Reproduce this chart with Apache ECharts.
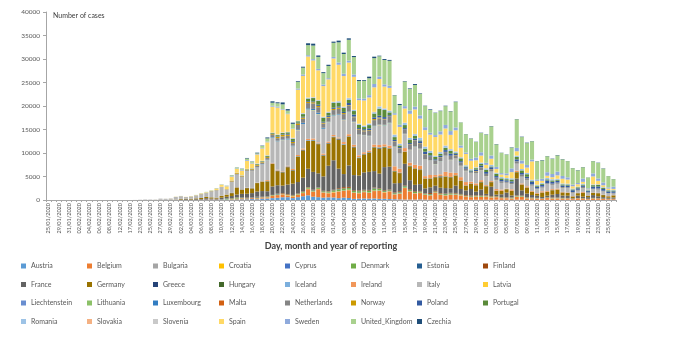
<!DOCTYPE html>
<html><head><meta charset="utf-8">
<script src="https://cdn.jsdelivr.net/npm/echarts@6/dist/echarts.min.js"></script>
<style>html,body{margin:0;padding:0;background:#fff}#c{width:681px;height:356px}</style>
</head><body><div id="c"></div>
<script>
const dates = ['25/01/2020','28/01/2020','29/01/2020','30/01/2020','31/01/2020','01/02/2020','02/02/2020','03/02/2020','04/02/2020','05/02/2020',
'06/02/2020','07/02/2020','08/02/2020','10/02/2020','12/02/2020','13/02/2020','17/02/2020','21/02/2020','23/02/2020','24/02/2020',
'25/02/2020','26/02/2020','27/02/2020','28/02/2020','29/02/2020','01/03/2020',
'02/03/2020','03/03/2020','04/03/2020','05/03/2020','06/03/2020','07/03/2020','08/03/2020','09/03/2020','10/03/2020','11/03/2020',
'12/03/2020','13/03/2020','14/03/2020','15/03/2020','16/03/2020','17/03/2020','18/03/2020','19/03/2020','20/03/2020','21/03/2020',
'22/03/2020','23/03/2020','24/03/2020','25/03/2020','26/03/2020','27/03/2020','28/03/2020','29/03/2020','30/03/2020','31/03/2020',
'01/04/2020','02/04/2020','03/04/2020','04/04/2020','05/04/2020','06/04/2020','07/04/2020','08/04/2020','09/04/2020','10/04/2020',
'11/04/2020','12/04/2020','13/04/2020','14/04/2020','15/04/2020','16/04/2020','17/04/2020','18/04/2020','19/04/2020','20/04/2020',
'21/04/2020','22/04/2020','23/04/2020','24/04/2020','25/04/2020','26/04/2020','27/04/2020','28/04/2020','29/04/2020','30/04/2020',
'01/05/2020','02/05/2020','03/05/2020','04/05/2020','05/05/2020','06/05/2020','07/05/2020','08/05/2020','09/05/2020','10/05/2020',
'11/05/2020','12/05/2020','13/05/2020','14/05/2020','15/05/2020','16/05/2020','17/05/2020','18/05/2020','19/05/2020','20/05/2020',
'21/05/2020','22/05/2020','23/05/2020','24/05/2020','25/05/2020','26/05/2020'];

const Austria = [0,0,0,0,0,0,0,0,0,0, 0,0,0,0,0,0,0,0,0,0, 0,0,2,1,3,4,
4,8,4,6,14,19,39,19,70,99,
60,120,150,150,200,160,300,320,400,480,580,600,400,600,800,1000,700,600,500,560,
530,400,500,420,240,300,320,300,320,250,250,200,170,130,90,100,90,130,80,60,70,80,50,80,80,60,40,50,50,50,
60,40,60,30,40,30,60,50,30,50,30,20,30,20,30,30,40,20,20,30,20,20,40,20,30,20];
const Belgium = [0,0,0,0,0,0,1,0,0,0, 0,0,0,0,0,0,0,0,0,0, 0,0,0,0,0,1,
1,6,5,10,27,59,60,70,39,28,
100,170,200,170,190,190,250,240,460,560,590,340,320,500,670,1300,1050,1700,1050,870,
1060,1380,1420,1660,1260,1120,1350,1200,1580,1680,1350,1630,1000,1200,2450,1700,1300,1350,1000,900,1500,1000,900,1000,1000,900,700,550,650,600,
660,480,540,360,340,260,630,640,300,300,240,200,380,290,300,260,220,170,300,220,150,270,240,200,150,160];
const Bulgaria = [0,0,0,0,0,0,0,0,0,0, 0,0,0,0,0,0,0,0,0,0, 0,0,0,0,0,0,
0,0,0,0,0,0,0,4,0,2,
3,0,16,8,10,0,20,11,15,15,10,20,20,0,22,30,22,30,20,30,
40,20,30,20,20,40,50,20,40,20,20,30,20,40,30,40,40,40,50,20,20,50,40,60,80,40,30,40,50,40,
50,40,40,30,30,50,60,40,30,20,40,30,40,50,40,30,30,20,20,30,20,30,10,20,20,20];
const Croatia = [0,0,0,0,0,0,0,0,0,0, 0,0,0,0,0,0,0,0,0,0, 0,1,2,0,0,3,
2,1,1,0,1,1,0,1,1,2,
5,2,13,10,5,20,8,20,45,40,50,60,80,56,60,60,40,50,60,70,
80,60,50,80,70,50,60,60,70,60,70,30,40,30,40,40,40,40,20,20,20,20,30,20,10,20,10,10,20,10,
10,10,5,5,0,10,5,5,10,0,5,5,0,0,5,0,5,0,0,5,0,5,0,0,0,0];
const Cyprus = [0,0,0,0,0,0,0,0,0,0, 0,0,0,0,0,0,0,0,0,0, 0,0,0,0,0,0,
0,0,0,0,0,0,0,0,2,4,
0,0,8,0,20,0,25,0,15,13,30,0,7,27,0,30,25,0,40,35,
30,30,40,20,40,30,20,30,20,40,10,20,20,30,20,20,20,10,10,10,10,10,10,10,10,10,0,10,0,10,
0,5,5,5,0,5,0,5,0,0,5,0,0,0,5,0,5,0,0,0,0,5,0,0,0,0];
const Denmark = [0,0,0,0,0,0,0,0,0,0, 0,0,0,0,0,0,0,0,0,0, 0,0,0,1,0,2,
1,0,2,4,5,3,5,7,15,170,
150,200,100,50,40,130,50,100,100,100,60,100,120,100,160,220,190,200,180,200,
280,350,370,330,280,310,210,330,390,310,180,170,180,210,300,200,210,200,150,210,150,160,220,230,150,150,110,120,150,140,
150,140,120,120,70,140,120,120,120,100,80,50,100,90,90,80,60,40,50,70,40,60,60,40,50,40];
const Estonia = [0,0,0,0,0,0,0,0,0,0, 0,0,0,0,0,0,0,0,0,0, 0,0,0,1,0,0,
0,0,1,0,0,2,7,0,0,0,
0,11,30,40,50,100,20,30,0,80,12,40,40,0,50,30,70,40,35,20,
50,80,60,50,40,30,30,60,90,60,50,30,40,40,60,50,30,40,50,60,30,20,40,30,40,20,10,30,20,10,
20,15,10,5,10,10,15,10,5,5,5,5,5,5,10,5,5,0,5,0,5,5,5,0,0,5];
const Finland = [0,0,0,0,1,0,0,0,0,0, 0,0,0,0,0,0,0,0,0,0, 0,0,1,0,0,1,
1,0,3,2,6,3,2,0,0,10,
50,60,10,70,50,100,30,40,50,50,130,120,90,90,90,80,86,50,80,100,
110,180,270,200,140,160,130,150,150,110,150,110,140,190,120,150,140,120,90,200,140,130,80,100,130,90,150,160,100,110,
100,110,70,60,80,60,90,80,70,50,60,40,60,80,50,50,70,40,30,60,30,60,40,30,30,40];
const France = [3,0,1,0,1,0,0,0,0,0, 0,0,5,0,0,0,1,0,0,0, 0,2,20,19,43,30,
100,150,100,150,138,300,200,190,370,372,
490,600,780,830,900,1100,1200,1100,1800,1800,1600,2000,2400,2450,2900,3900,3800,3000,3050,5400,
6270,4170,2780,4580,3210,3170,3700,3850,3490,3090,4920,4860,1950,1740,4600,1910,1360,1440,1020,1220,1100,1150,1170,950,1550,1060,990,1370,740,1270,
250,1990,300,600,1000,400,3600,1100,800,530,450,300,300,600,750,500,480,100,500,300,340,590,400,300,200,250];
const Germany = [0,1,3,0,1,1,2,2,0,0, 2,0,0,1,0,0,0,0,0,0, 0,1,19,2,30,52,
130,120,150,170,230,250,250,200,400,450,
600,1500,900,1200,1000,1800,2000,2100,4800,3000,2800,3700,2800,5400,5800,5900,6600,6200,4400,4700,
4900,6200,6200,6100,5900,3700,3800,4000,5000,5300,4100,3800,2500,2100,2500,2900,3400,3000,2000,1800,1800,2200,2400,2300,2100,1700,1000,1100,1300,1500,
1600,950,800,700,700,950,1300,1200,1250,670,360,930,800,930,910,620,580,340,510,800,300,460,640,430,290,430];
const Greece = [0,0,0,0,0,0,0,0,0,0, 0,0,0,0,0,0,0,0,0,0, 0,0,1,2,0,0,
0,3,0,3,0,0,0,20,0,14,
22,20,40,40,30,0,20,30,30,60,50,90,70,30,80,70,80,60,80,95,
50,120,50,60,80,60,60,80,40,120,60,30,20,50,20,20,40,40,10,40,40,150,20,30,30,20,20,30,10,20,
10,20,20,10,10,10,10,20,20,10,20,10,10,10,10,10,10,10,10,20,10,10,10,10,10,10];
const Hungary = [0,0,0,0,0,0,0,0,0,0, 0,0,0,0,0,0,0,0,0,0, 0,0,0,0,0,0,
0,0,2,0,2,0,3,2,0,4,
3,3,3,10,7,10,11,25,12,21,40,20,20,40,30,40,40,60,50,30,
40,60,60,30,70,60,30,80,70,100,150,100,80,40,60,150,80,110,100,70,40,100,80,100,80,80,50,50,70,80,
60,70,30,40,50,40,60,40,50,40,30,20,30,40,30,30,40,30,20,30,30,20,20,20,10,20];
const Iceland = [0,0,0,0,0,0,0,0,0,0, 0,0,0,0,0,0,0,0,0,0, 0,0,0,0,1,0,
0,3,3,16,9,0,9,5,10,10,
20,25,20,40,30,50,50,25,40,80,95,63,20,60,60,90,90,70,60,40,
100,60,100,30,20,80,50,30,40,80,60,30,20,30,30,20,10,10,10,10,10,0,10,0,0,10,10,0,0,0,
0,0,0,0,0,0,0,0,0,0,0,0,0,0,0,0,0,0,0,0,0,0,0,0,0,0];
const Ireland = [0,0,0,0,0,0,0,0,0,0, 0,0,0,0,0,0,0,0,0,0, 0,0,0,0,1,0,
0,1,0,3,1,12,0,0,2,10,
9,27,20,30,40,50,70,190,130,150,100,120,210,220,240,250,300,200,280,300,
300,210,400,420,370,390,350,350,500,500,480,550,990,830,730,650,720,780,490,700,400,390,940,930,500,700,700,370,380,380,
200,180,330,260,100,310,300,220,240,160,150,250,160,200,200,110,90,70,60,160,50,60,70,50,60,50];
const Italy = [0,0,0,0,2,0,0,0,0,0, 1,0,0,0,0,0,0,14,53,97, 93,78,250,238,240,566,
573,335,466,587,769,778,1247,1492,1797,977,
2313,2651,2547,3497,3590,3233,3526,4207,5322,5986,6557,5560,4789,5249,5210,6203,5909,5974,5217,4050,
4053,4782,4668,4585,4805,4316,3599,3039,3836,4204,3951,4694,4092,3153,2972,2667,3786,3493,3491,3047,2256,2729,3370,2646,3021,2357,2324,1739,2091,2086,
1872,1965,1900,1389,1221,1075,1444,1401,1327,1083,802,744,1402,888,992,789,875,675,451,813,500,642,652,669,531,300];
const Latvia = [0,0,0,0,0,0,0,0,0,0, 0,0,0,0,0,0,0,0,0,0, 0,0,0,0,0,0,
0,1,0,0,0,0,0,1,0,4,
0,7,0,4,18,0,12,20,30,30,20,20,20,40,10,30,60,25,20,20,
20,30,30,40,20,40,20,10,30,40,20,20,30,20,20,10,20,10,10,10,20,10,10,10,10,10,10,10,10,10,
10,10,10,10,5,5,10,10,5,5,5,5,5,5,10,5,5,5,5,5,5,5,5,5,5,0];
const Liechtenstein = [0,0,0,0,0,0,0,0,0,0, 0,0,0,0,0,0,0,0,0,0, 0,0,0,0,0,0,
0,0,0,0,0,0,0,0,0,0,
0,0,1,0,3,0,0,2,0,0,10,5,0,10,5,0,15,0,5,5,
0,3,0,2,2,0,0,0,1,0,2,0,0,0,2,0,0,0,0,0,0,0,0,0,0,0,0,0,0,0,
0,0,0,0,0,0,0,0,0,0,0,0,0,0,0,0,0,0,0,0,0,0,0,0,0,0];
const Lithuania = [0,0,0,0,0,0,0,0,0,0, 0,0,0,0,0,0,0,0,0,0, 0,0,0,0,1,0,
0,0,0,0,0,0,0,0,0,1,
3,0,2,0,4,0,4,10,20,10,20,20,10,50,0,50,60,50,40,40,
80,40,50,40,30,30,20,20,20,40,80,50,60,50,10,50,60,80,40,30,30,40,40,60,30,60,40,30,20,20,
20,20,30,10,10,10,20,20,10,20,10,10,10,10,20,10,10,10,10,10,10,10,10,10,0,10];
const Luxembourg = [0,0,0,0,0,0,0,0,0,0, 0,0,0,0,0,0,0,0,0,0, 0,0,0,0,0,1,
1,0,0,1,1,0,0,0,2,2,
4,8,24,25,40,50,70,100,130,140,120,190,130,150,230,220,230,280,200,80,
100,130,100,130,100,70,40,80,100,60,80,90,50,30,50,40,70,60,30,30,20,40,30,20,20,10,20,20,10,10,
10,10,10,10,0,10,10,10,10,10,10,0,10,10,10,0,10,0,0,10,0,0,10,0,0,0];
const Malta = [0,0,0,0,0,0,0,0,0,0, 0,0,0,0,0,0,0,0,0,0, 0,0,0,0,0,0,
0,0,0,0,0,0,0,0,3,0,
1,3,8,5,7,20,10,10,10,10,14,20,10,40,10,20,15,10,10,18,
20,10,20,20,20,10,10,20,10,10,30,20,10,20,10,20,10,20,10,10,10,10,10,0,20,10,10,10,0,10,
10,10,5,5,0,5,5,5,0,5,5,0,5,0,5,0,0,5,0,0,5,5,0,0,0,0];
const Netherlands = [0,0,0,0,0,0,0,0,0,0, 0,0,0,0,0,0,0,0,0,0, 0,0,0,1,1,5,
8,5,14,20,44,46,60,77,56,61,
120,190,150,155,180,280,290,350,410,530,640,550,550,850,850,1100,1170,1150,880,850,
1020,1080,1080,1220,900,950,780,1000,1200,1300,1150,1200,1000,960,800,1000,1200,1100,1000,750,700,800,750,800,650,650,400,170,390,500,
450,500,450,330,200,230,450,400,320,240,160,200,190,230,230,210,150,150,180,220,100,140,230,160,100,170];
const Norway = [0,0,0,0,0,0,0,0,0,0, 0,0,0,0,0,0,0,0,0,0, 0,0,1,0,5,1,
6,5,10,22,40,20,35,31,24,60,
140,150,100,140,150,180,120,200,180,300,350,270,270,350,280,240,250,280,200,170,
260,280,220,140,120,150,180,140,220,190,100,110,100,110,80,110,80,60,80,40,50,50,40,40,70,30,40,30,90,80,
40,30,30,10,20,40,30,30,20,20,10,20,20,20,20,20,20,10,10,10,20,20,10,10,10,10];
const Poland = [0,0,0,0,0,0,0,0,0,0, 0,0,0,0,0,0,0,0,0,0, 0,0,0,0,0,0,
0,0,0,1,4,0,0,6,5,5,
15,18,17,23,29,50,60,60,130,114,110,170,190,140,170,160,170,250,200,280,
250,240,240,470,440,230,260,390,370,370,380,270,270,260,310,270,360,380,540,250,260,300,380,460,270,280,300,200,320,370,
380,370,330,270,300,310,430,340,320,600,350,390,600,400,380,340,350,390,300,270,250,450,440,380,320,300];
const Portugal = [0,0,0,0,0,0,0,0,0,0, 0,0,0,0,0,0,0,0,0,0, 0,0,0,0,0,0,
0,2,2,1,4,4,9,9,9,11,
20,19,34,57,86,126,117,194,143,235,260,320,460,300,550,550,720,790,850,550,
1000,800,850,640,750,700,450,700,810,1500,1500,600,600,350,640,750,600,180,650,520,500,370,500,600,160,600,160,200,300,350,
500,180,500,350,240,400,500,550,550,140,240,230,240,290,190,230,240,170,220,210,150,290,300,200,230,190];
const Romania = [0,0,0,0,0,0,0,0,0,0, 0,0,0,0,0,0,0,0,0,0, 0,0,1,0,2,0,
0,1,1,0,0,3,1,1,0,8,
0,15,30,30,10,70,26,80,30,90,60,70,130,80,150,180,130,150,150,170,
200,260,180,380,220,190,260,280,280,450,290,340,510,310,440,320,350,510,400,440,210,370,420,340,290,220,260,240,170,270,
280,330,200,270,250,250,290,300,270,260,190,190,300,260,230,190,170,190,140,190,100,150,150,170,90,120];
const Slovakia = [0,0,0,0,0,0,0,0,0,0, 0,0,0,0,0,0,0,0,0,0, 0,0,0,0,0,0,
0,0,0,0,1,0,2,2,0,0,
0,0,11,10,3,20,25,20,40,10,20,50,40,10,40,40,30,40,50,40,
30,50,40,30,30,20,70,50,60,20,70,40,30,80,70,30,30,90,20,40,20,30,60,30,20,20,10,10,0,20,
10,5,10,0,0,5,5,5,5,0,5,5,0,5,5,0,5,0,0,0,5,0,0,0,0,5];
const Slovenia = [0,0,0,0,0,0,0,0,0,0, 0,0,0,0,0,0,0,0,0,0, 0,0,0,0,0,0,
0,0,0,1,6,6,4,0,9,20,
20,9,46,40,70,40,60,45,15,50,100,0,40,30,40,35,50,40,30,50,
40,50,60,50,30,40,30,50,30,40,30,30,20,40,20,20,20,20,20,20,10,30,20,20,10,20,10,10,10,10,
5,5,0,5,0,5,0,0,5,0,0,0,5,0,0,5,0,0,0,0,0,5,0,0,0,0];
const Spain = [0,0,0,0,0,1,0,0,0,1, 0,0,0,0,0,0,0,0,0,0, 0,7,4,10,17,33,
22,31,46,43,106,128,70,282,436,590,
850,800,1000,1700,1000,1900,2600,2750,5500,5700,4800,3750,1900,6600,7900,8700,7800,6300,6500,6900,
9200,7700,6500,7500,7000,5000,5300,5500,5200,5800,4600,4800,4200,3500,3000,5100,5200,4000,3500,3400,4000,3700,3600,3000,4500,2000,2400,1800,1500,1500,
720,1300,775,540,590,1310,930,1150,1130,3900,820,420,460,420,720,1000,880,480,510,400,100,1700,740,410,300,210];
const Sweden = [0,0,0,0,1,0,0,0,0,0, 0,0,0,0,0,0,0,0,0,0, 0,0,1,6,5,2,
6,1,1,10,26,36,29,43,59,119,
150,100,150,160,140,100,120,150,200,230,130,110,100,240,300,290,270,300,330,250,
330,480,500,400,500,380,390,490,720,540,470,460,330,460,500,700,610,680,610,400,390,680,750,800,600,470,300,400,600,700,
430,680,460,300,400,800,710,640,560,380,280,450,750,680,800,590,470,350,270,710,250,650,500,600,250,480];
const United_Kingdom = [0,0,0,0,2,0,0,0,0,1, 0,0,0,3,0,0,0,0,0,4, 0,0,3,2,5,12,
13,4,11,34,30,48,43,67,48,52,
150,200,210,340,250,150,400,680,640,700,1000,660,970,1430,1450,2130,2890,2550,2430,2600,
3000,4300,4200,4450,3700,3700,3800,3600,5500,4300,5200,5300,3800,4200,5250,4600,4600,4600,4500,4850,4700,4300,4000,4200,5400,4900,3900,4300,3300,4100,
6000,6200,4800,4300,4000,4400,6100,5000,4650,3900,3900,3900,3400,3200,3450,3550,3450,3500,2700,2400,2300,2600,3300,2950,2400,1600];
const Czechia = [0,0,0,0,0,0,0,0,0,0, 0,0,0,0,0,0,0,0,0,0, 0,0,0,0,0,3,
3,0,2,1,5,8,3,7,0,6,
20,33,55,110,60,140,80,200,300,200,400,300,250,150,200,400,400,300,200,250,
250,350,280,300,230,200,160,330,310,120,200,190,70,230,100,120,200,110,80,130,70,80,90,70,90,30,40,60,50,60,
70,70,70,40,50,80,50,80,90,50,40,90,50,70,80,60,30,40,60,50,30,40,60,60,20,30];

const countryNames = ['Austria','Belgium','Bulgaria','Croatia','Cyprus','Denmark','Estonia','Finland',
'France','Germany','Greece','Hungary','Iceland','Ireland','Italy','Latvia',
'Liechtenstein','Lithuania','Luxembourg','Malta','Netherlands','Norway','Poland','Portugal',
'Romania','Slovakia','Slovenia','Spain','Sweden','United_Kingdom','Czechia'];
const countryValues = [Austria,Belgium,Bulgaria,Croatia,Cyprus,Denmark,Estonia,Finland,
France,Germany,Greece,Hungary,Iceland,Ireland,Italy,Latvia,
Liechtenstein,Lithuania,Luxembourg,Malta,Netherlands,Norway,Poland,Portugal,
Romania,Slovakia,Slovenia,Spain,Sweden,United_Kingdom,Czechia];
const countryColors = ['#5B9BD5','#ED7D31','#A5A5A5','#FFC000','#4472C4','#70AD47','#255E91','#9E480E',
'#636363','#997300','#264478','#43682B','#7CAFDD','#F1975A','#B7B7B7','#FFCD33',
'#698ED0','#8CC168','#327DC2','#D26012','#848484','#CC9A00','#335AA1','#5A8A39',
'#9DC3E6','#F4B183','#C9C9C9','#FFD966','#8FAADC','#A9D18E','#1F4E79'];

countryValues.forEach((a, i) => { if (a.length !== dates.length) throw new Error(countryNames[i] + ' has ' + a.length + ' values'); });

const FONT = 'Lato, "Open Sans", sans-serif';
const chart = echarts.init(document.getElementById('c'), null, {renderer: 'canvas'});

const legends = [];
for (let c = 0; c < 8; c++) {
  const names = [];
  for (let r = 0; r < 4; r++) { const k = r * 8 + c; if (k < countryNames.length) names.push(countryNames[k]); }
  legends.push({
    orient: 'vertical', left: 21 + c * 66, top: 262, padding: 0,
    itemWidth: 5, itemHeight: 5, itemGap: 10.5, icon: 'rect', selectedMode: false,
    textStyle: {fontSize: 7, color: '#595959', fontFamily: FONT, lineHeight: 8},
    data: names
  });
}

chart.setOption({
  animation: false,
  backgroundColor: '#ffffff',
  title: {text: 'Number of cases', left: 53, top: 12, padding: 0, textStyle: {fontSize: 7, fontWeight: 'normal', color: '#404040', fontFamily: FONT}},
  legend: legends,
  grid: {left: 46, right: 65, top: 12, bottom: 156, containLabel: false},
  xAxis: {
    type: 'category', data: dates,
    name: 'Day, month and year of reporting', nameLocation: 'middle', nameGap: 31,
    nameTextStyle: {fontSize: 9, fontWeight: 'bold', color: '#404040', fontFamily: FONT},
    axisLine: {lineStyle: {color: '#a6a6a6', width: 1}},
    axisTick: {show: true, interval: 0, length: 2, lineStyle: {color: '#a6a6a6'}},
    axisLabel: {rotate: 90, interval: 1, fontSize: 5.5, color: '#595959', margin: 3, fontFamily: FONT}
  },
  yAxis: {
    type: 'value', min: 0, max: 40000, interval: 5000,
    axisLine: {show: true, lineStyle: {color: '#a6a6a6', width: 1}},
    axisTick: {show: true, length: 3, lineStyle: {color: '#a6a6a6'}},
    splitLine: {show: false},
    axisLabel: {fontSize: 6.5, color: '#595959', margin: 6, fontFamily: FONT, formatter: v => String(v)}
  },
  series: countryNames.map((n, i) => ({
    name: n, type: 'bar', stack: 'total', data: countryValues[i],
    barCategoryGap: '20%', itemStyle: {color: countryColors[i]}
  }))
});
</script></body></html>
